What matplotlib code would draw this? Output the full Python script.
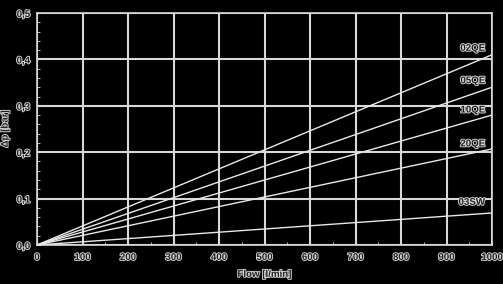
import numpy as np
import matplotlib.pyplot as plt
import matplotlib.patheffects as pe

plt.rcParams['font.family'] = ['Liberation Sans', 'DejaVu Sans']

flow = [0, 1000]
names = ['02QE', '05QE', '10QE', '20QE', '03SW']
dp_end = [0.41, 0.34, 0.28, 0.207, 0.069]
label_y = [0.425, 0.355, 0.292, 0.219, 0.093]

halo = [pe.withStroke(linewidth=1.3, foreground='#d8d8d8')]

fig = plt.figure(figsize=(5.03, 2.84), dpi=100, facecolor='black')
ax = fig.add_axes([37/503, 39/284, 455/503, 232/284])
ax.set_facecolor('black')

for n, d, ly in zip(names, dp_end, label_y):
    ax.plot(flow, [0, d], color='#e8e8e8', lw=1.0, zorder=3)
    ax.text(985, ly, n, ha='right', va='center', fontsize=7, fontweight='bold',
            color='#202020', path_effects=halo, zorder=4)

ax.set_xlim(0, 1000)
ax.set_ylim(0, 0.5)
ax.set_xticks(np.arange(0, 1001, 100))
ax.set_yticks(np.arange(0, 0.51, 0.1))
ax.set_xticks(np.arange(0, 1001, 50), minor=True)
ax.set_yticks(np.arange(0, 0.51, 0.02), minor=True)
ax.set_yticklabels(['0,0', '0,1', '0,2', '0,3', '0,4', '0,5'])
ax.grid(True, which='major', color='#d8d8d8', lw=1.5)
for s in ax.spines.values():
    s.set_color('#d8d8d8')
    s.set_linewidth(1.2)
ax.tick_params(which='both', colors='#d8d8d8', direction='in', labelsize=7)
ax.tick_params(which='major', length=3, pad=5)
ax.tick_params(which='minor', length=2)
for lab in ax.get_xticklabels() + ax.get_yticklabels():
    lab.set_color('#202020')
    lab.set_fontweight('bold')
    lab.set_path_effects(halo)

ax.set_xlabel('Flow [l/min]', fontsize=7, fontweight='bold', color='#202020',
              path_effects=halo, labelpad=5)
ax.set_ylabel('Δp [bar]', fontsize=7, fontweight='bold', color='#202020',
              path_effects=halo, labelpad=5)

fig.savefig('out.png', dpi=100, facecolor='black')
